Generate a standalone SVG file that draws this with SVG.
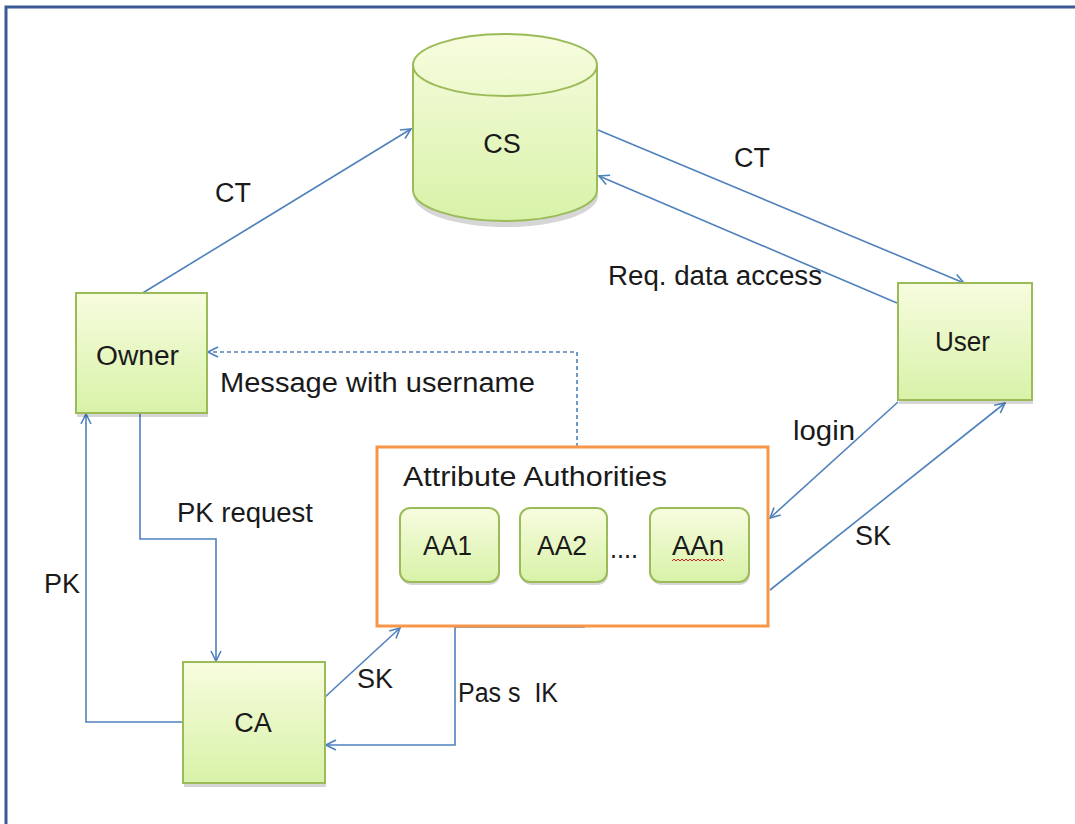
<svg xmlns="http://www.w3.org/2000/svg" width="1075" height="824" viewBox="0 0 1075 824">
<style>
  text { font-family: "Liberation Sans", Arial, sans-serif; font-size: 27px; fill: #1a1a1a; }
  .c { text-anchor: middle; }
  .node { fill: url(#g); stroke: #9bbb59; stroke-width: 2; }
  .shadow { fill: #000; opacity: 0.16; }
  .conn { fill: none; stroke: #4f81bd; stroke-width: 1.6; }
  .dash { stroke-dasharray: 4 3; }
</style>
<defs>
  <linearGradient id="g" x1="0" y1="0" x2="0" y2="1">
    <stop offset="0" stop-color="#f7fcdf"/>
    <stop offset="1" stop-color="#d8f2a8"/>
  </linearGradient>
  <marker id="arr" viewBox="0 0 12 12" refX="11" refY="6" markerWidth="12" markerHeight="12" markerUnits="userSpaceOnUse" orient="auto">
    <path d="M1,1 L11,6 L1,11" fill="none" stroke="#4f81bd" stroke-width="1.6"/>
  </marker>
</defs>
<rect width="1075" height="824" fill="#fff"/>
<path d="M6,824 V7 H1075" fill="none" stroke="#3c5a96" stroke-width="3"/>

<g id="connectors">
  <line class="conn" x1="141" y1="294" x2="411" y2="129" marker-end="url(#arr)"/>
  <line class="conn" x1="598" y1="130" x2="964" y2="283" marker-end="url(#arr)"/>
  <line class="conn" x1="897" y1="303" x2="599" y2="176" marker-end="url(#arr)"/>
  <path class="conn dash" d="M577,447 V352 H208" marker-end="url(#arr)"/>
  <path class="conn" d="M140,414 V539 H216 V661" marker-end="url(#arr)"/>
  <path class="conn" d="M183,722 H86 V414" marker-end="url(#arr)"/>
  <line class="conn" x1="325" y1="697" x2="400" y2="628" marker-end="url(#arr)"/>
  <path class="conn" d="M585,627 H455 V745 H326" marker-end="url(#arr)"/>
  <line class="conn" x1="898" y1="402" x2="770" y2="518" marker-end="url(#arr)"/>
  <line class="conn" x1="770" y1="590" x2="1005" y2="403" marker-end="url(#arr)"/>
  <text class="c" x="233" y="202">CT</text>
  <text class="c" x="752" y="167">CT</text>
  <text x="608" y="285" textLength="214" lengthAdjust="spacingAndGlyphs">Req. data access</text>
  <text x="220" y="392" textLength="315" lengthAdjust="spacingAndGlyphs">Message with username</text>
  <text x="793" y="440" textLength="62" lengthAdjust="spacingAndGlyphs">login</text>
  <text class="c" x="873" y="545">SK</text>
  <text x="177" y="522" textLength="136" lengthAdjust="spacingAndGlyphs">PK request</text>
  <text class="c" x="62" y="593">PK</text>
  <text class="c" x="375" y="688">SK</text>
  <text x="458" y="702" textLength="100" lengthAdjust="spacingAndGlyphs" style="white-space:pre">Pas s  IK</text>
</g>

<g id="CS">
  <path class="shadow" d="M414,70 V192 A92,31 0 0 0 598,192 V70 Z" transform="translate(0,4)"/>
  <path class="node" d="M413,65 V190 A92,31 0 0 0 597,190 V65 A92,31 0 0 0 413,65 Z"/>
  <path d="M413,65 A92,31 0 0 0 597,65" fill="none" stroke="#9bbb59" stroke-width="2"/>
  <text class="c" x="502" y="153">CS</text>
</g>

<g id="Owner">
  <rect class="shadow" x="77" y="297" width="131" height="120"/>
  <rect class="node" x="76" y="293" width="131" height="120"/>
  <text x="96" y="365" textLength="83" lengthAdjust="spacingAndGlyphs">Owner</text>
</g>

<g id="User">
  <rect class="shadow" x="899" y="287" width="134" height="117"/>
  <rect class="node" x="898" y="283" width="134" height="117"/>
  <text x="935" y="351" textLength="55" lengthAdjust="spacingAndGlyphs">User</text>
</g>

<g id="CA">
  <rect class="shadow" x="184" y="666" width="142" height="121"/>
  <rect class="node" x="183" y="662" width="142" height="121"/>
  <text class="c" x="253" y="732">CA</text>
</g>

<g id="AttributeAuthorities">
  <rect x="377" y="447" width="391" height="179" fill="#fff" stroke="#f79646" stroke-width="3"/>
  <text x="403" y="486" textLength="264" lengthAdjust="spacingAndGlyphs">Attribute Authorities</text>
  <g id="AA1">
    <rect class="shadow" x="401" y="511" width="99" height="74" rx="10"/>
    <rect class="node" x="400" y="508" width="99" height="74" rx="10"/>
    <text x="423" y="555" textLength="49" lengthAdjust="spacingAndGlyphs">AA1</text>
  </g>
  <g id="AA2">
    <rect class="shadow" x="521" y="511" width="87" height="74" rx="10"/>
    <rect class="node" x="520" y="508" width="87" height="74" rx="10"/>
    <text x="537" y="555" textLength="50" lengthAdjust="spacingAndGlyphs">AA2</text>
  </g>
  <text x="610" y="558" textLength="28" lengthAdjust="spacingAndGlyphs">....</text>
  <g id="AAn">
    <rect class="shadow" x="651" y="511" width="99" height="74" rx="10"/>
    <rect class="node" x="650" y="508" width="99" height="74" rx="10"/>
    <text x="672" y="555" textLength="52" lengthAdjust="spacingAndGlyphs">AAn</text>
    <path d="M672,561 l2,-2 l2,2 l2,-2 l2,2 l2,-2 l2,2 l2,-2 l2,2 l2,-2 l2,2 l2,-2 l2,2 l2,-2 l2,2 l2,-2 l2,2 l2,-2 l2,2 l2,-2 l2,2 l2,-2 l2,2 l2,-2 l2,2 l2,-2 l2,2" fill="none" stroke="#e02020" stroke-width="1"/>
  </g>
</g>
</svg>
